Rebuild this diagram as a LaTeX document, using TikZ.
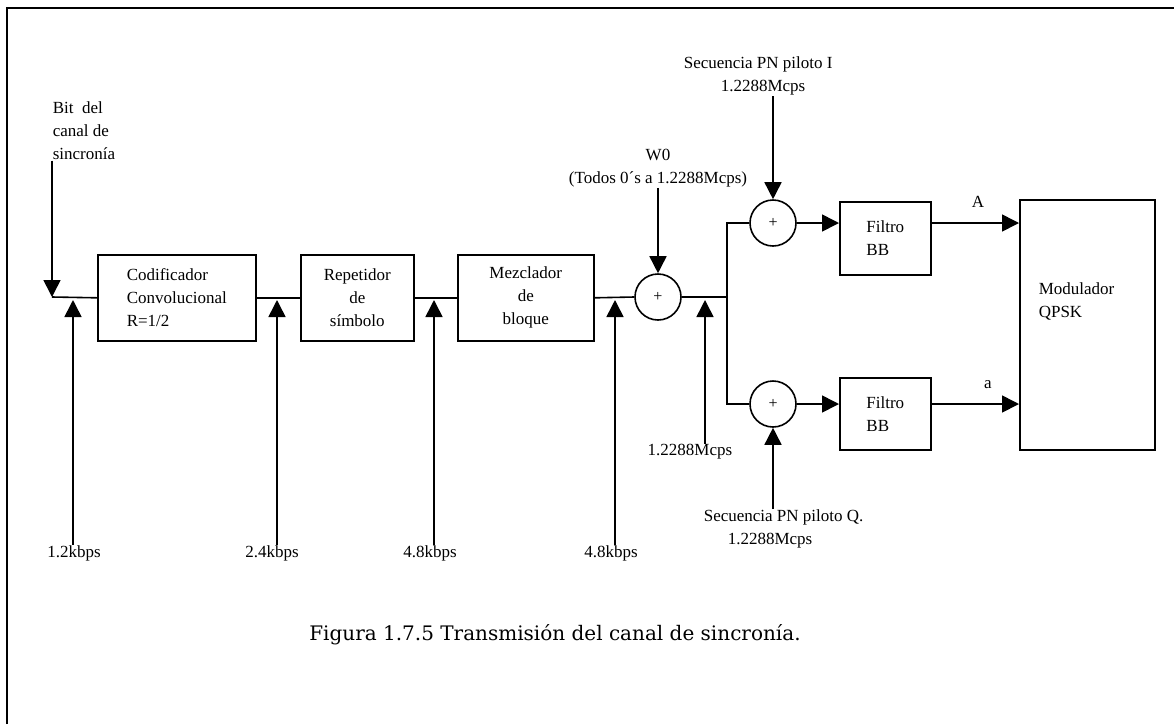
\documentclass[tikz,border=0pt]{standalone}
\usepackage{fontspec}
\setmainfont{Liberation Serif}
\newfontfamily\capfont{DejaVu Serif}
\usetikzlibrary{shapes,arrows.meta,positioning}

\newcommand{\lblfont}{\fontsize{17}{23}\selectfont}
\newcommand{\sumfont}{\fontsize{16}{16}\selectfont}

\begin{document}
\begin{tikzpicture}[x=1pt, y=-1pt, line width=1.6pt, >={Triangle[length=17pt,width=17pt]},
    blk/.style={rectangle, draw, anchor=north west, inner sep=0pt, font=\lblfont},
    sum/.style={circle, draw, minimum size=46pt, inner sep=0pt, font=\sumfont},
    txt/.style={inner sep=0pt, font=\lblfont}]
    \useasboundingbox (0,0) rectangle (1174,724);
    % Frame
    \draw (7,724) -- (7,8) -- (1174,8);

    % Main chain
    \node (bit) [txt, align=left, anchor=north west] at (52,101) {Bit\ \ del\\canal de\\sincronía};
    \coordinate (in) at (52,297);
    \node (cod) [blk, minimum width=158pt, minimum height=86pt, align=left] at (97,254) {Codificador\\Convolucional\\R=1/2};
    \node (rep) [blk, minimum width=113pt, minimum height=86pt, align=center] at (300,254) {Repetidor\\de\\símbolo};
    \node (mez) [blk, minimum width=136pt, minimum height=86pt, align=center] at (457,254) {Mezclador\\de\\bloque};
    \node (s1) [sum] at (658,297) {+};
    \coordinate (split) at (727,297);

    % Branches
    \node (s2) [sum] at (773,223) {+};
    \node (s3) [sum] at (773,404) {+};
    \node (fil1) [blk, minimum width=91pt, minimum height=73pt, align=left] at (839,201) {Filtro\\BB};
    \node (fil2) [blk, minimum width=91pt, minimum height=72pt, align=left] at (839,377) {Filtro\\BB};
    \node (mod) [blk, minimum width=135pt, minimum height=250pt] at (1019,199) {};
    \node (modtxt) [txt, align=left, anchor=west] at (1038,301) {Modulador\\QPSK};
    \node (la) [txt] at (978,202) {A};
    \node (lb) [txt] at (988,385) {a};

    % Inputs
    \node (w0) [txt, align=center] at (658,168) {W0\\(Todos 0´s a 1.2288Mcps)};
    \node (pni) [txt, align=left, anchor=west] at (683,76) {Secuencia PN piloto I\\\hspace{37pt}1.2288Mcps};
    \node (pnq) [txt, align=left, anchor=west] at (703,529) {Secuencia PN piloto Q.\\\hspace{24pt}1.2288Mcps};

    % Rates
    \coordinate (t1) at (73,300);
    \coordinate (t2) at (277,300);
    \coordinate (t3) at (434,300);
    \coordinate (t4) at (615,300);
    \coordinate (t5) at (705,300);
    \node (k1) [txt] at (74,553) {1.2kbps};
    \node (k2) [txt] at (272,553) {2.4kbps};
    \node (k3) [txt] at (430,553) {4.8kbps};
    \node (k4) [txt] at (611,553) {4.8kbps};
    \node (k5) [txt] at (690,452) {1.2288Mcps};

    % Caption
    \node (cap) [inner sep=0pt, font=\capfont\fontsize{20}{24}\selectfont] at (555,635) {Figura 1.7.5 Transmisión del canal de sincronía.};

    % Connections
    \draw[->] (bit.south west) -- (in);
    \draw (in) -- (cod.west);
    \draw (cod.east) -- (rep.west);
    \draw (rep.east) -- (mez.west);
    \draw (mez.east) -- (s1.west);
    \draw (s1.east) -- (split);
    \draw (s2.west) -| (split) |- (s3.west);
    \draw[->] (s2.east) -- (s2 -| fil1.west);
    \draw[->] (s3.east) -- (s3 -| fil2.west);
    \draw[->] (s2 -| fil1.east) -- (s2 -| mod.west);
    \draw[->] (s3 -| fil2.east) -- (s3 -| mod.west);
    \draw[->] (w0.south) -- (s1.north);
    \draw[->] (pni.south -| s2) -- (s2.north);
    \draw[->] (pnq.north -| s3) -- (s3.south);
    \draw[->] (k1.north -| t1) -- (t1);
    \draw[->] (k2.north -| t2) -- (t2);
    \draw[->] (k3.north -| t3) -- (t3);
    \draw[->] (k4.north -| t4) -- (t4);
    \draw[->] (k5.north -| t5) -- (t5);
\end{tikzpicture}
\end{document}
